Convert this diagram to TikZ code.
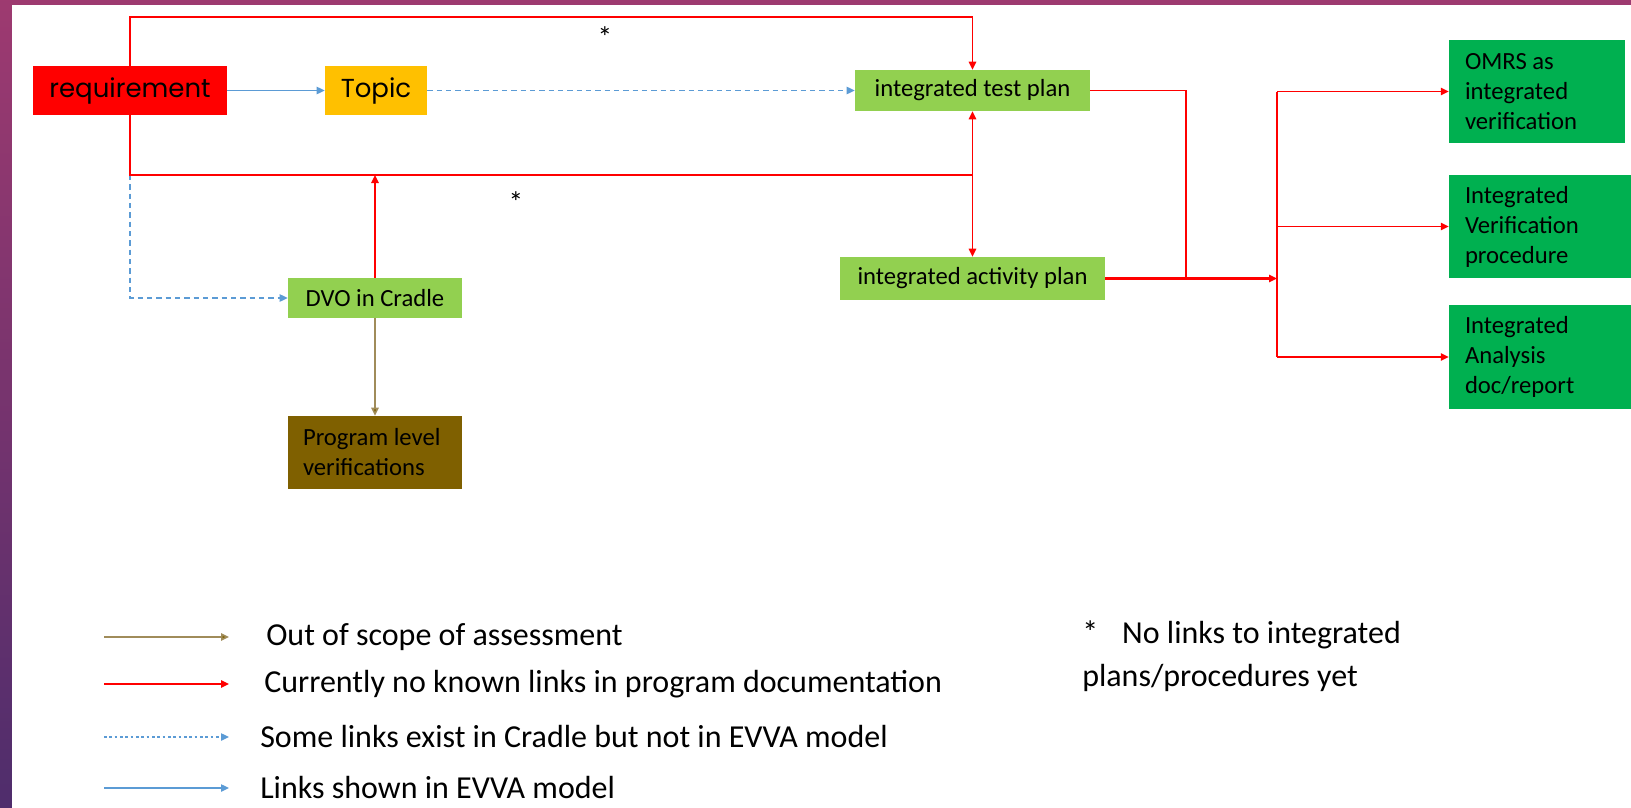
\documentclass[tikz,border=0pt]{standalone}
\usepackage{fontspec}
\setmainfont{Carlito}
\newfontfamily\geofont{Poppins}
\usetikzlibrary{arrows.meta}

\definecolor{linkred}{RGB}{255,0,0}
\definecolor{linkblue}{RGB}{91,155,213}
\definecolor{linkbrown}{RGB}{160,140,90}
\definecolor{tipbrown}{RGB}{127,96,0}
\definecolor{reqred}{RGB}{255,0,0}
\definecolor{topicgold}{RGB}{255,192,0}
\definecolor{lightgreen}{RGB}{146,208,80}
\definecolor{darkgreen}{RGB}{0,176,80}
\definecolor{progbrown}{RGB}{127,96,0}
\definecolor{slidetop}{RGB}{158,58,112}
\definecolor{slidebot}{RGB}{78,45,108}

\begin{document}
\begin{tikzpicture}[x=0.75pt,y=0.75pt,yscale=-1,
  box/.style={inner sep=0pt, text=black, font=\fontsize{18.5}{22.5}\selectfont},
  textbox/.style={box, align=flush left, inner xsep=12pt},
  redlink/.style={draw=linkred, line width=1.2pt},
  redarrow/.style={redlink, -{Triangle[length=6pt,width=5.5pt]}},
  bluearrow/.style={draw=linkblue, line width=1pt, -{Triangle[length=6pt,width=5.5pt]}},
  bluedash/.style={bluearrow, dash pattern=on 4pt off 3pt},
  brownarrow/.style={draw=linkbrown, line width=1.2pt, -{Triangle[length=6pt,width=5.5pt,fill=tipbrown]}},
  legend/.style={anchor=west, inner sep=0pt, font=\fontsize{24}{28}\selectfont}]

%Slide background
\useasboundingbox (0,0) rectangle (1631,807);
\shade [top color=slidetop, bottom color=slidebot] (-5,-5) rectangle (1640,815);
\fill [white] (12,5) rectangle (1640,815);

%Shape: Rectangle [id:req]
\node [box, fill=reqred, minimum width=145.5pt, minimum height=36.75pt, font=\geofont\fontsize{19.5}{22}\selectfont] (req) at (130,90.5) {requirement};
%Shape: Rectangle [id:topic]
\node [box, fill=topicgold, minimum width=76.5pt, minimum height=36.75pt, font=\geofont\fontsize{19.5}{22}\selectfont] (topic) at (376,90.5) {Topic};
%Shape: Rectangle [id:tplan]
\node [box, fill=lightgreen, minimum width=176.25pt, minimum height=30.75pt] (tplan) at (972.5,90.5) {integrated test plan};
%Shape: Rectangle [id:aplan]
\node [box, fill=lightgreen, minimum width=198.75pt, minimum height=32.25pt] (aplan) at (972.5,278.5) {integrated activity plan};
%Shape: Rectangle [id:dvo]
\node [box, fill=lightgreen, minimum width=130.5pt, minimum height=30pt] (dvo) at (375,298) {DVO in Cradle};
%Shape: Rectangle [id:prog]
\node [textbox, fill=progbrown, inner xsep=11.25pt, text width=108pt, minimum height=54.75pt] (prog) at (375,452.5) {Program level\\verifications};
%Shape: Rectangle [id:omrs]
\node [textbox, fill=darkgreen, text width=108pt, minimum height=77.25pt] (omrs) at (1537,91.5) {OMRS as\\integrated\\verification};
%Shape: Rectangle [id:ivp]
\node [textbox, fill=darkgreen, text width=112.5pt, minimum height=77.25pt] (ivp) at (1540,226.5) {Integrated\\Verification\\procedure};
%Shape: Rectangle [id:iadr]
\node [textbox, fill=darkgreen, text width=112.5pt, minimum height=78pt] (iadr) at (1540,357) {Integrated\\Analysis\\doc/report};

%Junction points
\coordinate (ctop) at (130,17);
\coordinate (cbot) at (130,175);
\coordinate (cmid) at (972.5,175);
\coordinate (cjoin) at (1186,278.5);
\coordinate (csplit) at (1277,278.5);

%Straight Lines [id:blue]
\draw [bluearrow] (req.east) -- (topic.west);
\draw [bluedash] (topic.east) -- (tplan.west);
\draw [bluedash] (cbot) |- (dvo.west);

%Straight Lines [id:red]
\draw [redarrow] (req.north) -- (ctop) -| (tplan.north);
\draw [redlink] (req.south) -- (cbot) -- (cmid);
\draw [redarrow] (cmid) -- (tplan.south);
\draw [redarrow] (cmid) -- (aplan.north);
\draw [redarrow] (dvo.north) -- (dvo.north |- cbot);
\draw [redlink] (tplan.east) -| (cjoin);
\draw [redarrow, line width=2.2pt] (aplan.east) -- (csplit);
\draw [redlink] (csplit |- omrs.west) -- (csplit |- iadr.west);
\draw [redarrow] (csplit |- omrs.west) -- (omrs.west);
\draw [redarrow] (csplit |- ivp.west) -- (ivp.west);
\draw [redarrow] (csplit |- iadr.west) -- (iadr.west);

%Straight Lines [id:brown]
\draw [brownarrow] (dvo.south) -- (prog.north);

% Text Node
\node [font=\fontsize{22}{24}\selectfont] (star1) at (605,37) {*};
% Text Node
\node [font=\fontsize{22}{24}\selectfont] (star2) at (516,202) {*};

%Legend
\coordinate (lg1a) at (104,637); \coordinate (lg1b) at (229,637);
\coordinate (lg2a) at (104,684); \coordinate (lg2b) at (229,684);
\coordinate (lg3a) at (104,737); \coordinate (lg3b) at (229,737);
\coordinate (lg4a) at (104,788); \coordinate (lg4b) at (229,788);
\draw [brownarrow] (lg1a) -- (lg1b);
\draw [redarrow] (lg2a) -- (lg2b);
\draw [bluedash, dash pattern=on 2pt off 2pt] (lg3a) -- (lg3b);
\draw [bluearrow] (lg4a) -- (lg4b);
% Text Node
\node [legend] (lgt1) at (266,637) {Out of scope of assessment};
% Text Node
\node [legend] (lgt2) at (264,684) {Currently no known links in program documentation};
% Text Node
\node [legend] (lgt3) at (260,736) {Some links exist in Cradle but not in EVVA model};
% Text Node
\node [legend] (lgt4) at (260,787) {Links shown in EVVA model};
% Text Node
\node [legend, align=flush left, font=\fontsize{24}{32.25}\selectfont] (note) at (1082,656) {*\hspace{18pt}No links to integrated\\plans/procedures yet};

\end{tikzpicture}
\end{document}
